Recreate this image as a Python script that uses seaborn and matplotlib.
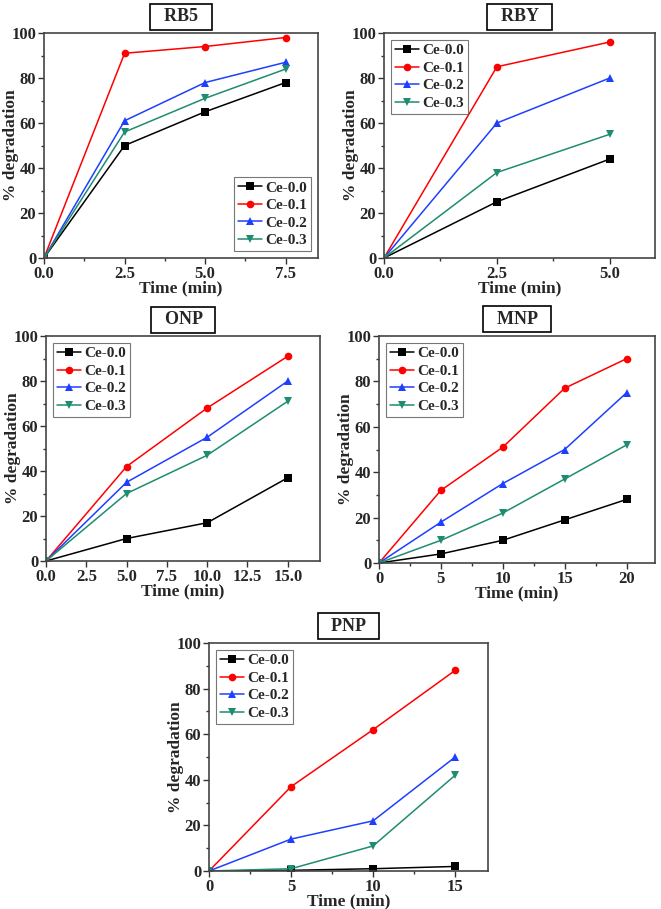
import numpy as np
import pandas as pd
import matplotlib
matplotlib.use('Agg')
import matplotlib.pyplot as plt
from matplotlib.ticker import MultipleLocator
import seaborn as sns

sns.set_style('ticks')
plt.rcParams['font.family'] = ['Liberation Serif', 'DejaVu Serif']
plt.rcParams['font.weight'] = 'bold'

series = ['Ce-0.0', 'Ce-0.1', 'Ce-0.2', 'Ce-0.3']
colors = ['#000000', '#ff0000', '#1f3fff', '#1e8c70']
markers = ['s', 'o', '^', 'v']

# RB5
rb5_time = [0, 2.5, 5, 7.5]
rb5_ce00 = [0, 50, 65, 78]
rb5_ce01 = [0, 91, 94, 98]
rb5_ce02 = [0, 61, 78, 87]
rb5_ce03 = [0, 56, 71, 84]

# RBY
rby_time = [0, 2.5, 5]
rby_ce00 = [0, 25, 44]
rby_ce01 = [0, 85, 96]
rby_ce02 = [0, 60, 80]
rby_ce03 = [0, 38, 55]

# ONP
onp_time = [0, 5, 10, 15]
onp_ce00 = [0, 10, 17, 37]
onp_ce01 = [0, 42, 68, 91]
onp_ce02 = [0, 35, 55, 80]
onp_ce03 = [0, 30, 47, 71]

# MNP
mnp_time = [0, 5, 10, 15, 20]
mnp_ce00 = [0, 4, 10, 19, 28]
mnp_ce01 = [0, 32, 51, 77, 90]
mnp_ce02 = [0, 18, 35, 50, 75]
mnp_ce03 = [0, 10, 22, 37, 52]

# PNP
pnp_time = [0, 5, 10, 15]
pnp_ce00 = [0, 0.3, 1, 2]
pnp_ce01 = [0, 37, 62, 88]
pnp_ce02 = [0, 14, 22, 50]
pnp_ce03 = [0, 1, 11, 42]


def make_df(time, *vals):
    rows = []
    for name, v in zip(series, vals):
        for t, y in zip(time, v):
            rows.append({'Time': t, 'deg': y, 'Sample': name})
    return pd.DataFrame(rows)


panels = [
    ('RB5', make_df(rb5_time, rb5_ce00, rb5_ce01, rb5_ce02, rb5_ce03),
     [44, 318, 33, 258], 8.5, 2.5, 1.25, 'lower right', '{:.1f}'),
    ('RBY', make_df(rby_time, rby_ce00, rby_ce01, rby_ce02, rby_ce03),
     [384, 655, 33, 258], 6.0, 2.5, 1.25, 'upper left', '{:.1f}'),
    ('ONP', make_df(onp_time, onp_ce00, onp_ce01, onp_ce02, onp_ce03),
     [46, 320, 336, 561], 17.0, 2.5, None, 'upper left', '{:.1f}'),
    ('MNP', make_df(mnp_time, mnp_ce00, mnp_ce01, mnp_ce02, mnp_ce03),
     [379, 655, 336, 563], 22.3, 5, 2.5, 'upper left', '{:.0f}'),
    ('PNP', make_df(pnp_time, pnp_ce00, pnp_ce01, pnp_ce02, pnp_ce03),
     [209, 488, 643, 871], 17.0, 5, 2.5, 'upper left', '{:.0f}'),
]

W, H = 661, 909
fig = plt.figure(figsize=(W / 100, H / 100), dpi=100)

for title, df, (l, r, t, b), xmax, xmaj, xmin, loc, fmt in panels:
    ax = fig.add_axes([l / W, (H - b) / H, (r - l) / W, (b - t) / H])
    sns.lineplot(data=df, x='Time', y='deg', hue='Sample', style='Sample',
                 palette=colors, markers=markers, dashes=False,
                 markersize=5.5, markeredgewidth=0, linewidth=1.1, ax=ax)
    ax.set_xlim(0, xmax)
    ax.set_ylim(0, 100)
    ax.xaxis.set_major_locator(MultipleLocator(xmaj))
    if xmin:
        ax.xaxis.set_minor_locator(MultipleLocator(xmin))
    ax.yaxis.set_major_locator(MultipleLocator(20))
    ax.yaxis.set_minor_locator(MultipleLocator(10))
    ax.set_xticklabels([fmt.format(v) for v in ax.get_xticks()])
    ax.tick_params(axis='both', which='major', direction='out', length=4,
                   width=1, labelsize=12, pad=1.5, color='#333333')
    ax.tick_params(axis='both', which='minor', direction='out', length=2.5,
                   width=1, color='#333333')
    for lab in ax.get_xticklabels() + ax.get_yticklabels():
        lab.set_fontweight('bold')
    for sp in ax.spines.values():
        sp.set_visible(True)
        sp.set_color('#444444')
        sp.set_linewidth(1.2)
    ax.set_xlabel('Time (min)', fontsize=12.5, fontweight='bold', labelpad=-1)
    ax.set_ylabel('% degradation', fontsize=12.5, fontweight='bold')
    # right edge of the rotated label sits ~25 px left of the axis
    ax.yaxis.set_label_coords(-25 / (r - l), 0.5)
    leg = ax.legend(loc=loc, fontsize=11, frameon=True, fancybox=False,
                    handlelength=1.6, borderpad=0.25, labelspacing=0.25,
                    handletextpad=0.2, borderaxespad=0.45)
    leg.get_frame().set_edgecolor('#555555')
    leg.get_frame().set_linewidth(0.8)
    for txt in leg.get_texts():
        txt.set_fontweight('bold')
    ax.text(0.5, 1.073, '  ' + title + '  ', transform=ax.transAxes,
            ha='center', va='center', fontsize=13, fontweight='bold',
            bbox=dict(boxstyle='square,pad=0.25', facecolor='white',
                      edgecolor='black', linewidth=1.2))

fig.savefig('out.png', dpi=100)
